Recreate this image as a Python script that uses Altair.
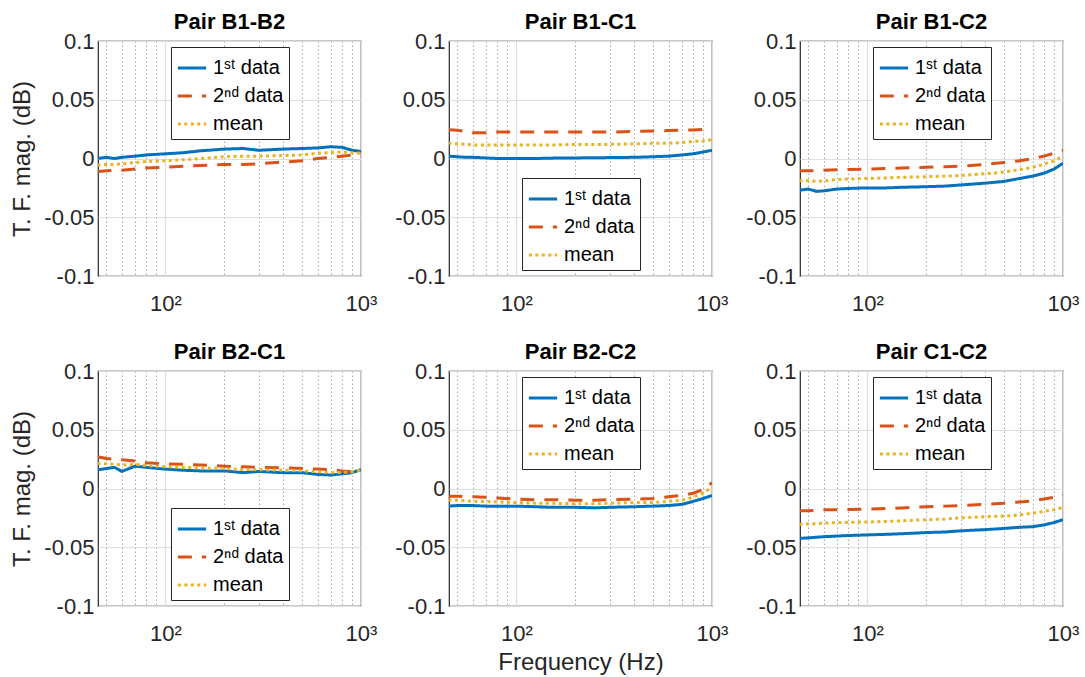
import altair as alt
import pandas as pd

freq = [45, 50, 55, 60, 70, 80, 100, 125, 150, 200, 250, 300, 400, 500, 600, 700, 800, 900, 1000]

panels = ["Pair B1-B2", "Pair B1-C1", "Pair B1-C2", "Pair B2-C1", "Pair B2-C2", "Pair C1-C2"]
series_names = ["1ˢᵗ data", "2ⁿᵈ data", "mean"]

b1b2_first = [0.000, 0.001, 0.000, 0.001, 0.002, 0.003, 0.004, 0.005, 0.0065, 0.008, 0.0085, 0.007, 0.008, 0.0085, 0.009, 0.010, 0.0095, 0.007, 0.006]
b1b2_second = [-0.011, -0.0105, -0.010, -0.010, -0.009, -0.008, -0.0075, -0.0065, -0.006, -0.005, -0.005, -0.0045, -0.003, -0.002, 0.000, 0.001, 0.002, 0.003, 0.003]
b1b2_mean = [-0.0057, -0.005, -0.005, -0.0045, -0.0035, -0.0025, -0.002, -0.001, 0.000, 0.0015, 0.002, 0.002, 0.0025, 0.003, 0.0045, 0.005, 0.0055, 0.005, 0.0045]

b1c1_first = [0.002, 0.0015, 0.001, 0.001, 0.0005, 0.0, 0.0, 0.0, 0.0003, 0.0005, 0.0006, 0.0008, 0.001, 0.0015, 0.002, 0.003, 0.004, 0.0055, 0.007]
b1c1_second = [0.0245, 0.024, 0.023, 0.022, 0.022, 0.0225, 0.0225, 0.0225, 0.0225, 0.0225, 0.0225, 0.0225, 0.023, 0.0235, 0.0238, 0.024, 0.0243, 0.0247, 0.025]
b1c1_mean = [0.013, 0.0125, 0.012, 0.0115, 0.0115, 0.0115, 0.0115, 0.0115, 0.0115, 0.012, 0.012, 0.012, 0.0125, 0.013, 0.013, 0.0135, 0.0145, 0.015, 0.016]

b1c2_first = [-0.027, -0.026, -0.028, -0.0275, -0.026, -0.0255, -0.025, -0.025, -0.0245, -0.024, -0.0235, -0.0225, -0.021, -0.0195, -0.017, -0.015, -0.0125, -0.009, -0.004]
b1c2_second = [-0.0105, -0.0105, -0.0103, -0.010, -0.0095, -0.0093, -0.009, -0.0085, -0.008, -0.0075, -0.007, -0.0065, -0.005, -0.0035, -0.002, 0.000, 0.002, 0.0045, 0.007]
b1c2_mean = [-0.019, -0.019, -0.0195, -0.019, -0.018, -0.0175, -0.017, -0.0165, -0.016, -0.0155, -0.015, -0.0145, -0.013, -0.0115, -0.0095, -0.0075, -0.005, -0.002, 0.002]

b2c1_first = [0.0158, 0.017, 0.018, 0.0145, 0.019, 0.018, 0.0165, 0.0155, 0.015, 0.015, 0.0135, 0.0145, 0.0135, 0.0135, 0.012, 0.0115, 0.0125, 0.0135, 0.016]
b2c1_second = [0.027, 0.0255, 0.025, 0.0245, 0.0235, 0.022, 0.021, 0.0205, 0.020, 0.019, 0.0185, 0.018, 0.0175, 0.017, 0.0165, 0.016, 0.015, 0.0145, 0.0155]
b2c1_mean = [0.0215, 0.021, 0.0205, 0.020, 0.0205, 0.0195, 0.0185, 0.018, 0.0175, 0.017, 0.0162, 0.016, 0.0155, 0.015, 0.0143, 0.0135, 0.0137, 0.014, 0.016]

b2c2_first = [-0.015, -0.0145, -0.0145, -0.0145, -0.015, -0.015, -0.015, -0.0155, -0.016, -0.016, -0.0165, -0.016, -0.0155, -0.015, -0.0145, -0.0135, -0.011, -0.0085, -0.006]
b2c2_second = [-0.0065, -0.0065, -0.007, -0.007, -0.0075, -0.008, -0.009, -0.0095, -0.0095, -0.010, -0.010, -0.0095, -0.009, -0.0085, -0.007, -0.006, -0.004, -0.001, 0.005]
b2c2_mean = [-0.010, -0.010, -0.0105, -0.011, -0.011, -0.0115, -0.012, -0.0125, -0.0125, -0.013, -0.013, -0.0125, -0.012, -0.012, -0.011, -0.010, -0.0075, -0.004, 0.001]

c1c2_first = [-0.0425, -0.042, -0.0415, -0.041, -0.0405, -0.040, -0.0395, -0.039, -0.0385, -0.0375, -0.037, -0.036, -0.035, -0.034, -0.033, -0.0325, -0.031, -0.029, -0.0265]
c1c2_second = [-0.019, -0.019, -0.0185, -0.018, -0.018, -0.0178, -0.0175, -0.017, -0.0165, -0.0155, -0.015, -0.0145, -0.0135, -0.0125, -0.0115, -0.0105, -0.009, -0.0075, -0.0055]
c1c2_mean = [-0.0305, -0.030, -0.030, -0.0295, -0.029, -0.0288, -0.0285, -0.028, -0.0275, -0.0265, -0.026, -0.025, -0.024, -0.0235, -0.0225, -0.021, -0.0195, -0.018, -0.016]

panel_data = {
    "Pair B1-B2": [b1b2_first, b1b2_second, b1b2_mean],
    "Pair B1-C1": [b1c1_first, b1c1_second, b1c1_mean],
    "Pair B1-C2": [b1c2_first, b1c2_second, b1c2_mean],
    "Pair B2-C1": [b2c1_first, b2c1_second, b2c1_mean],
    "Pair B2-C2": [b2c2_first, b2c2_second, b2c2_mean],
    "Pair C1-C2": [c1c2_first, c1c2_second, c1c2_mean],
}

x_grid_values = [50, 60, 70, 80, 90, 100, 200, 300, 400, 500, 600, 700, 800, 900, 1000]
y_tick_values = [-0.1, -0.05, 0, 0.05, 0.1]

rows = []
for p in panels:
    for s, vals in zip(series_names, panel_data[p]):
        for f, v in zip(freq, vals):
            rows.append({"panel": p, "freq": f, "series": s, "value": v})
df = pd.DataFrame(rows)

colors = ["#0072BD", "#D95319", "#EDB120"]
dashes = [[1, 0], [14, 10], [3, 3.5]]

FONT = "Liberation Sans"
legend_pos = {
    "Pair B1-B2": (73, 6), "Pair B1-C1": (73, 137), "Pair B1-C2": (73, 6),
    "Pair B2-C1": (73, 137), "Pair B2-C2": (73, 6), "Pair C1-C2": (73, 6),
}

major = "datum.value == 100 || datum.value == 1000"


def make_panel(i, name):
    sub = df[df["panel"] == name]
    lx, ly = legend_pos[name]
    leg = alt.Legend(orient="none", legendX=lx, legendY=ly, title=None)
    xtitle = "Frequency (Hz)" if i == 4 else None
    ytitle = "T. F. mag. (dB)" if i % 3 == 0 else None
    x = alt.X(
        "freq:Q",
        title=xtitle,
        scale=alt.Scale(type="log", domain=[45.3, 1000], nice=False),
        axis=alt.Axis(
            values=x_grid_values,
            labelExpr="datum.value == 100 ? '10²' : (datum.value == 1000 ? '10³' : '')",
            labelFlush=False,
            labelOverlap=False,
            ticks=False,
            domain=False,
            labelPadding=17,
            titlePadding=6,
            gridDash={"condition": {"test": major, "value": [1, 0]}, "value": [1.5, 2.5]},
            gridColor={"condition": {"test": major, "value": "#dedede"}, "value": "#a8a8a8"},
            gridWidth={"condition": {"test": major, "value": 1.2}, "value": 1},
        ),
    )
    y = alt.Y(
        "value:Q",
        title=ytitle,
        scale=alt.Scale(domain=[-0.1, 0.1], nice=False),
        axis=alt.Axis(
            values=y_tick_values,
            labelExpr="'' + datum.value",
            ticks=False,
            domain=False,
            labelPadding=4,
            titlePadding=9,
            gridColor="#dedede",
            gridWidth=1.2,
        ),
    )
    return (
        alt.Chart(sub)
        .mark_line(strokeWidth=3, strokeCap="butt", clip=True)
        .encode(
            x=x,
            y=y,
            color=alt.Color("series:N", scale=alt.Scale(domain=series_names, range=colors), legend=leg),
            strokeDash=alt.StrokeDash("series:N", scale=alt.Scale(domain=series_names, range=dashes), legend=leg),
        )
        .properties(width=263, height=235, title=name)
    )


charts = [make_panel(i, n) for i, n in enumerate(panels)]

chart = (
    alt.concat(*charts, columns=3, spacing={"row": 95, "column": 88}, bounds="flush")
    .resolve_scale(color="independent", strokeDash="independent")
    .resolve_legend(color="independent", strokeDash="independent")
    .properties(padding={"left": 10, "top": 10, "right": 5, "bottom": 2}, background="white")
    .configure_view(stroke="#262626", strokeWidth=1.2)
    .configure_axis(
        labelFont=FONT, labelFontSize=22, labelColor="#262626",
        titleFont=FONT, titleFontSize=24, titleFontWeight="normal", titleColor="#262626",
    )
    .configure_title(font=FONT, fontSize=22, fontWeight="bold", color="black", offset=-4, frame="group")
    .configure_legend(
        strokeColor="#262626", fillColor="white", padding=5, cornerRadius=0,
        symbolType="stroke", symbolSize=800, symbolStrokeWidth=3,
        labelFont=FONT, labelFontSize=20, labelColor="black", labelOffset=5, rowPadding=2,
    )
)

chart.save("out.html", embed_options={"renderer": "svg", "actions": False})
